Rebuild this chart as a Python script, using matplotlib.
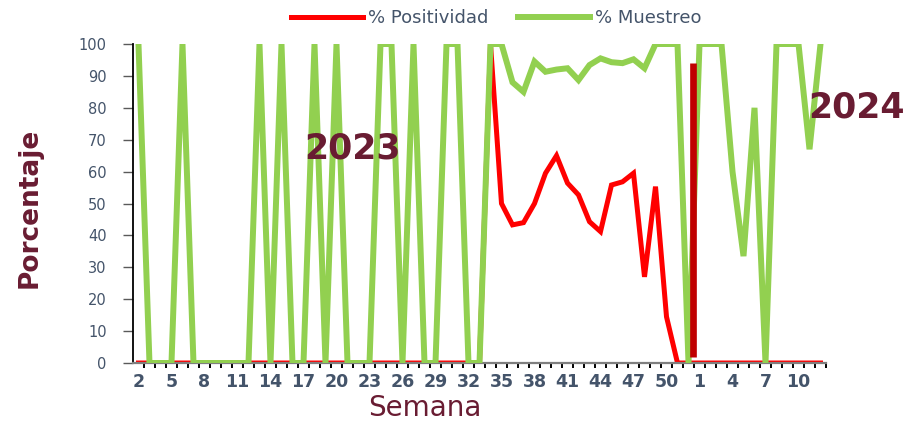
import matplotlib
matplotlib.use("Agg")
import matplotlib.pyplot as plt
from matplotlib.ticker import FixedLocator, MultipleLocator

# --- data ---
weeks_2023 = list(range(2, 53))
weeks_2024 = list(range(1, 13))

muestreo_2023 = [100, 0, 0, 0, 100, 0, 0, 0, 0, 0, 0, 100, 0, 100, 0, 0,
                 100, 0, 100, 0, 0, 0, 100, 100, 0, 100, 0, 0, 100, 100, 0, 0,
                 100, 100, 88, 85, 94.5, 91.3, 92, 92.4, 88.7, 93.4, 95.5, 94.3,
                 94, 95.2, 92.4, 100, 100, 100, 0]
muestreo_2024 = [100, 100, 100, 60, 33.5, 80, 0, 100, 100, 100, 67, 100]

positividad_2023 = [0] * 32 + [100, 50, 43.3, 44, 50, 59.5, 65, 56.4, 52.7,
                               44.3, 41.2, 55.8, 56.8, 59.5, 27, 55.3, 14.5,
                               0, 0]
positividad_2024 = [0] * 12

# vertical marker drawn between the two years
divider_pos = 50.4
divider_range = (2, 94)

MAROON = "#691C32"
SLATE = "#44546A"

weeks = weeks_2023 + weeks_2024
muestreo = muestreo_2023 + muestreo_2024
positividad = positividad_2023 + positividad_2024
x = list(range(len(weeks)))

fig = plt.figure(figsize=(9.09, 4.22), dpi=100)
ax = fig.add_axes([0.1463, 0.1398, 0.7624, 0.7559])

line_pos, = ax.plot(x, positividad, color="#FF0000", linewidth=3.6,
                    solid_joinstyle="miter", zorder=2, label="% Positividad")
line_mue, = ax.plot(x, muestreo, color="#92D050", linewidth=4.3,
                    solid_joinstyle="miter", zorder=3, label="% Muestreo")
ax.plot([divider_pos, divider_pos], divider_range, color="#C00000",
        linewidth=4.8, solid_capstyle="butt", zorder=4)

ax.set_xlim(-0.5, len(weeks) - 0.5)
ax.set_ylim(0, 100)

# x axis: labels every third week, small tick marks between categories
label_idx = x[::3]
ax.xaxis.set_major_locator(FixedLocator(label_idx))
ax.set_xticklabels([str(weeks[i]) for i in label_idx])
ax.xaxis.set_minor_locator(FixedLocator([i + 0.5 for i in x]))
ax.tick_params(axis="x", which="major", length=0, pad=7, labelsize=12.5,
               labelcolor=SLATE)
ax.tick_params(axis="x", which="minor", length=3.5, width=1.4, color="black",
               direction="out")
for lbl in ax.get_xticklabels():
    lbl.set_fontweight("bold")

ax.yaxis.set_major_locator(MultipleLocator(10))
ax.tick_params(axis="y", length=7, width=1, color="#595959", pad=12,
               labelsize=10.5, labelcolor=SLATE)

for side in ["top", "right"]:
    ax.spines[side].set_visible(False)
ax.spines["left"].set_color("black")
ax.spines["left"].set_linewidth(1.3)
ax.spines["bottom"].set_color("#7F7F7F")
ax.spines["bottom"].set_linewidth(1.6)

ax.set_xlabel("Semana", fontsize=20, color=MAROON)
ax.xaxis.set_label_coords(0.421, -0.098)
ax.set_ylabel("Porcentaje", fontsize=19, color=MAROON, fontweight="bold")
ax.yaxis.set_label_coords(-0.131, 0.485)

ax.text(19.5, 67.4, "2023", fontsize=25, color=MAROON, ha="center",
        va="center", fontweight="bold")
ax.text(65.3, 80.2, "2024", fontsize=25, color=MAROON, ha="center",
        va="center", fontweight="bold", clip_on=False)

leg = fig.legend(handles=[line_pos, line_mue], loc="center",
                 bbox_to_anchor=(0.546, 0.957), ncol=2, frameon=False,
                 fontsize=13, handlelength=4.0, handletextpad=0.3,
                 columnspacing=1.6)
for t in leg.get_texts():
    t.set_color(SLATE)

fig.savefig("out.png", dpi=100)
